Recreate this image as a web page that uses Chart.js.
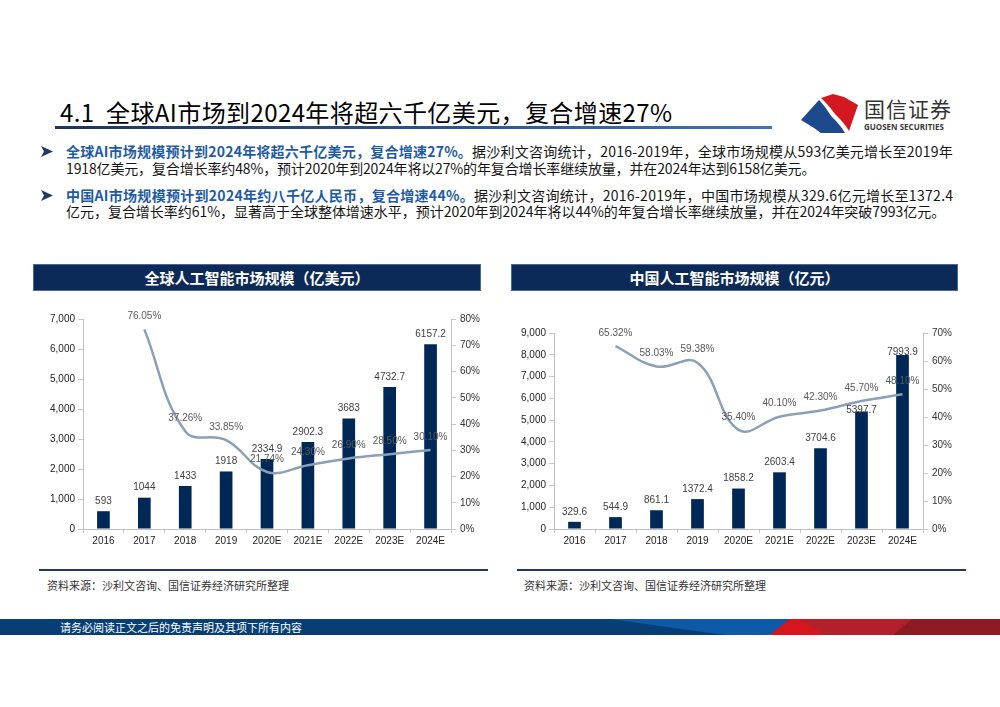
<!DOCTYPE html>
<html>
<head>
<meta charset="utf-8">
<script src="https://cdn.jsdelivr.net/npm/chart.js@4.4.0/dist/chart.umd.min.js"></script>
<style>
  body { margin: 0; width: 1000px; height: 707px; background: #fff; position: relative; overflow: hidden; font-family: "Noto Sans CJK SC", sans-serif; }
  .abs { position: absolute; }
  #title { left: 60px; top: 95px; font-size: 24px; line-height: 34px; color: #000; white-space: nowrap; letter-spacing: 0.4px; }
  #rule { left: 55px; top: 126px; width: 717px; height: 3px; background: linear-gradient(90deg, #1d3463, #2a5590 55%, #3c76b5); }
  .line { position: absolute; left: 66px; font-size: 14px; line-height: 18px; color: #151515; white-space: nowrap; }
  .hl { color: #1e5ba5; font-weight: bold; }
  .arrow { position: absolute; left: 40px; width: 13px; height: 11px; }
  .box { position: absolute; top: 264px; height: 27px; background: #0c2a57; border: 1px solid #4a6890; box-sizing: border-box; color: #fff; font-size: 15px; font-weight: bold; text-align: center; line-height: 25px; }
  .sep { position: absolute; top: 569px; height: 2px; background: #1f3864; }
  .src { position: absolute; top: 577px; font-size: 11px; line-height: 16px; color: #333; }
  #foot { left: 0; top: 619px; width: 1000px; height: 16px; background: #073f74; overflow: hidden; }
  #foot div { position: absolute; top: 0; left: 0; width: 1000px; height: 16px; }
  #footText { position: absolute; left: 60px; top: 0; font-size: 11px; line-height: 16px; color: #fff; }
  canvas { position: absolute; }
</style>
</head>
<body>

<div id="title" class="abs">4.1&nbsp;&nbsp;全球AI市场到2024年将超六千亿美元，复合增速27%</div>
<div id="rule" class="abs"></div>

<svg class="abs" style="left:800px;top:93px" width="60" height="42" viewBox="0 0 60 42">
  <path d="M21 5 L33 1 L44 4 L58 12 L49 38 C45 31 41 27 37 23 C33 19 30 13 21 5 Z" fill="#d5171f"/>
  <path d="M19 7 C27 15 29 21 33 25 C37 29 41 33 45 40 L21 40 L14 35 L1 27 Z" fill="#1d4a8c"/>
</svg>
<div class="abs" style="left:864px;top:94px;font-size:21px;line-height:28px;color:#333;letter-spacing:1px">国信证券</div>
<div class="abs" style="left:864px;top:121px;font-size:8px;line-height:12px;font-weight:bold;color:#3a3a3a;font-family:'Open Sans',sans-serif">GUOSEN SECURITIES</div>

<svg class="arrow" style="top:146px" viewBox="0 0 13 11"><path d="M1 0 L13 5.5 L1 11 L4 5.5 Z" fill="#1f3864"/></svg>
<div class="line" style="top:142px" data-w="887"><span class="hl">全球AI市场规模预计到2024年将超六千亿美元，复合增速27%。</span>据沙利文咨询统计，2016-2019年，全球市场规模从593亿美元增长至2019年</div>
<div class="line" style="top:159px" data-w="749">1918亿美元，复合增长率约48%，预计2020年到2024年将以27%的年复合增长率继续放量，并在2024年达到6158亿美元。</div>
<svg class="arrow" style="top:190px" viewBox="0 0 13 11"><path d="M1 0 L13 5.5 L1 11 L4 5.5 Z" fill="#1f3864"/></svg>
<div class="line" style="top:186px" data-w="887"><span class="hl">中国AI市场规模预计到2024年约八千亿人民币，复合增速44%。</span>据沙利文咨询统计，2016-2019年，中国市场规模从329.6亿元增长至1372.4</div>
<div class="line" style="top:202px" data-w="879">亿元，复合增长率约61%，显著高于全球整体增速水平，预计2020年到2024年将以44%的年复合增长率继续放量，并在2024年突破7993亿元。</div>

<div class="box" style="left:33px;width:448px">全球人工智能市场规模（亿美元）</div>
<div class="box" style="left:511px;width:447px">中国人工智能市场规模（亿元）</div>

<canvas id="globalChart" width="460" height="251" style="left:30px;top:300px"></canvas>
<canvas id="chinaChart" width="460" height="251" style="left:505px;top:300px"></canvas>

<div class="sep" style="left:39px;width:449px"></div>
<div class="sep" style="left:517px;width:449px"></div>
<div class="src" style="left:47px">资料来源：沙利文咨询、国信证券经济研究所整理</div>
<div class="src" style="left:524px">资料来源：沙利文咨询、国信证券经济研究所整理</div>

<div id="foot" class="abs">
  <div style="background:#0f5aa8;clip-path:polygon(610px 0,800px 0,780px 16px,725px 16px)"></div>
  <div style="background:#b3202b;clip-path:polygon(790px 0,1000px 0,1000px 16px,770px 16px)"></div>
  <div style="background:#d8141c;clip-path:polygon(790px 0,800px 0,825px 16px,770px 16px)"></div>
  <div style="background:#8e1b21;clip-path:polygon(912px 0,1000px 0,1000px 16px,893px 16px)"></div>
  <span id="footText">请务必阅读正文之后的免责声明及其项下所有内容</span>
</div>

<script>
// stretch the text lines to the widths they have on the slide
document.querySelectorAll('.line').forEach(el => {
    const target = Number(el.dataset.w);
    const natural = el.scrollWidth;
    const chars = el.textContent.length;
    el.style.letterSpacing = ((target - natural) / chars) + 'px';
});

const years = ['2016', '2017', '2018', '2019', '2020E', '2021E', '2022E', '2023E', '2024E'];

// 全球 (亿美元)
const globalSize = [593, 1044, 1433, 1918, 2334.9, 2902.3, 3683, 4732.7, 6157.2];
const globalGrowth = [null, 76.05, 37.26, 33.85, 21.74, 24.30, 26.90, 28.50, 30.10];

// 中国 (亿元)
const chinaSize = [329.6, 544.9, 861.1, 1372.4, 1858.2, 2603.4, 3704.6, 5397.7, 7993.9];
const chinaGrowth = [null, 65.32, 58.03, 59.38, 35.40, 40.10, 42.30, 45.70, 48.10];

Chart.defaults.font.family = '"Liberation Sans", Arial, sans-serif';
Chart.defaults.font.size = 10;
Chart.defaults.color = '#333';

const valueLabels = {
    id: 'valueLabels',
    afterDatasetsDraw(chart, args, opts) {
        const ctx = chart.ctx;
        ctx.save();
        ctx.font = '10px "Liberation Sans", Arial, sans-serif';
        ctx.textAlign = 'center';
        ctx.textBaseline = 'middle';
        chart.data.datasets.forEach((ds, i) => {
            const meta = chart.getDatasetMeta(i);
            meta.data.forEach((el, j) => {
                const v = ds.data[j];
                if (v == null) return;
                if (ds.type === 'bar') {
                    const lift = opts.barLift ? opts.barLift[j] : 10;
                    ctx.fillStyle = '#404040';
                    ctx.fillText(String(v), el.x, el.y - lift);
                } else {
                    ctx.fillStyle = '#595959';
                    ctx.fillText(v.toFixed(2) + '%', el.x, el.y - 13);
                }
            });
        });
        ctx.restore();
    }
};

function buildChart(id, sizes, growth, o) {
    const axisGrid = { drawOnChartArea: false, drawTicks: true, tickLength: 5, color: '#c8c8c8' };
    return new Chart(document.getElementById(id), {
        type: 'bar',
        data: {
            labels: years,
            datasets: [{
                type: 'line',
                data: growth,
                yAxisID: 'y1',
                borderColor: '#8aa0b8',
                borderWidth: 2.5,
                tension: 0.4,
                pointRadius: 0,
                fill: false,
                order: 0
            }, {
                type: 'bar',
                data: sizes,
                yAxisID: 'y',
                backgroundColor: '#002856',
                barPercentage: 0.31,
                categoryPercentage: 1,
                order: 1
            }]
        },
        options: {
            responsive: false,
            animation: false,
            devicePixelRatio: 1,
            layout: { padding: { top: o.top, bottom: 0, left: 0, right: 0 } },
            plugins: {
                legend: { display: false },
                tooltip: { enabled: false },
                valueLabels: { barLift: o.barLift }
            },
            scales: {
                x: {
                    grid: { drawOnChartArea: false, drawTicks: true, tickLength: 4, color: '#c8c8c8' },
                    border: { color: '#bfbfbf' },
                    ticks: { padding: 2, color: '#222', maxRotation: 0 },
                    afterFit: s => { s.height = 22; }
                },
                y: {
                    position: 'left',
                    min: 0, max: o.sizeMax,
                    ticks: { stepSize: 1000, padding: 3, color: '#222', callback: v => v.toLocaleString('en-US') },
                    grid: axisGrid,
                    border: { color: '#bfbfbf' },
                    afterFit: s => { s.width = o.leftW; }
                },
                y1: {
                    position: 'right',
                    min: 0, max: o.pctMax,
                    ticks: { stepSize: 10, padding: 4, color: '#333', callback: v => v + '%' },
                    grid: axisGrid,
                    border: { color: '#bfbfbf' },
                    afterFit: s => { s.width = o.rightW; }
                }
            }
        },
        plugins: [valueLabels]
    });
}

buildChart('globalChart', globalSize, globalGrowth, {
    sizeMax: 7000, pctMax: 80, top: 19, leftW: 53, rightW: 39
});
buildChart('chinaChart', chinaSize, chinaGrowth, {
    sizeMax: 9000, pctMax: 70, top: 33, leftW: 49, rightW: 42,
    barLift: [10, 10, 10, 10, 10, 10, 10, 1, 3]
});
</script>
</body>
</html>
